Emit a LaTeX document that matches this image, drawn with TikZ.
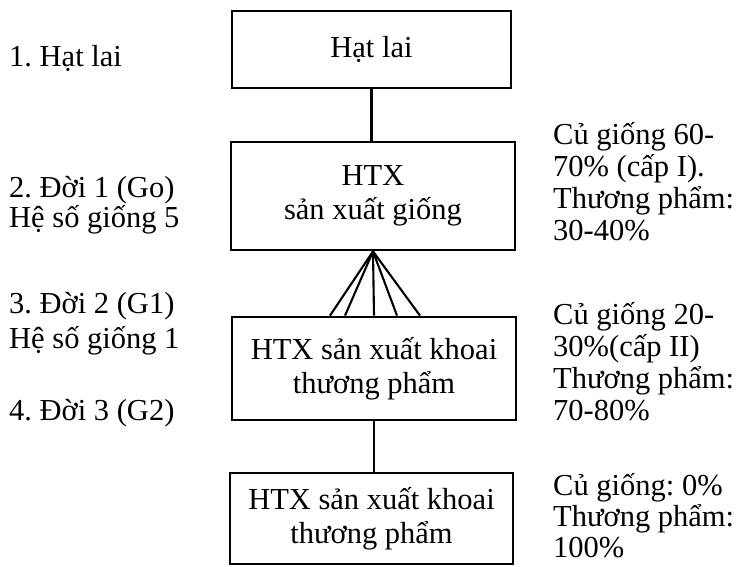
\documentclass[tikz,border=0pt]{standalone}
\usepackage{fontspec}
\setmainfont{Liberation Serif}
\usetikzlibrary{calc}
\frenchspacing
\begin{document}
\frenchspacing
\begin{tikzpicture}[x=1pt,y=-1pt,
  box/.style={draw, line width=2.8pt, rectangle, align=center, inner sep=0pt,
    font=\fontsize{30.5}{34}\selectfont},
  lbl/.style={anchor=base west, align=left, inner sep=0pt,
    font=\fontsize{30.5}{32}\selectfont},
  link/.style={line width=2.1pt}]
\useasboundingbox (0,0) rectangle (740,566);
% boxes
\node[box, minimum width=279pt, minimum height=77pt] (b1) at (371.5,49.5) {Hạt lai};
\node[box, minimum width=284pt, minimum height=108pt] (b2) at (373,196) {HTX\\sản xuất giống};
\node[box, minimum width=284pt, minimum height=103pt] (b3) at (374,368.5) {HTX sản xuất khoai\\thương phẩm};
\node[box, minimum width=283pt, minimum height=91pt] (b4) at (371.5,518.5) {HTX sản xuất khoai\\thương phẩm};
% connectors
\draw[link] (b1.south) -- (b1.south |- b2.north);
\draw[link] (b2.south) -- ([xshift=-44pt]b3.north);
\draw[link] (b2.south) -- ([xshift=-29pt]b3.north);
\draw[link] (b2.south) -- (b3.north);
\draw[link] (b2.south) -- ([xshift=23pt]b3.north);
\draw[link] (b2.south) -- ([xshift=46pt]b3.north);
\draw[link] (b3.south) -- (b3.south |- b4.north);
% left labels (anchor = baseline of last line)
\node[lbl] (l1) at (9,66) {1. Hạt lai};
\node[lbl, font=\fontsize{30.5}{30}\selectfont] (l2) at (9,227) {2. Đời 1 (Go)\\Hệ số giống 5};
\node[lbl, font=\fontsize{30.5}{35}\selectfont] (l3) at (9,348) {3. Đời 2 (G1)\\Hệ số giống 1};
\node[lbl] (l4) at (9,420) {4. Đời 3 (G2)};
% right labels
\node[lbl] (r1) at (553,240) {Củ giống 60-\\70\% (cấp I).\\Thương phẩm:\\30-40\%};
\node[lbl] (r2) at (553,420) {Củ giống 20-\\30\%(cấp II)\\Thương phẩm:\\70-80\%};
\node[lbl, font=\fontsize{30.5}{31}\selectfont] (r3) at (553,557) {Củ giống: 0\%\\Thương phẩm:\\100\%};
\end{tikzpicture}
\end{document}
